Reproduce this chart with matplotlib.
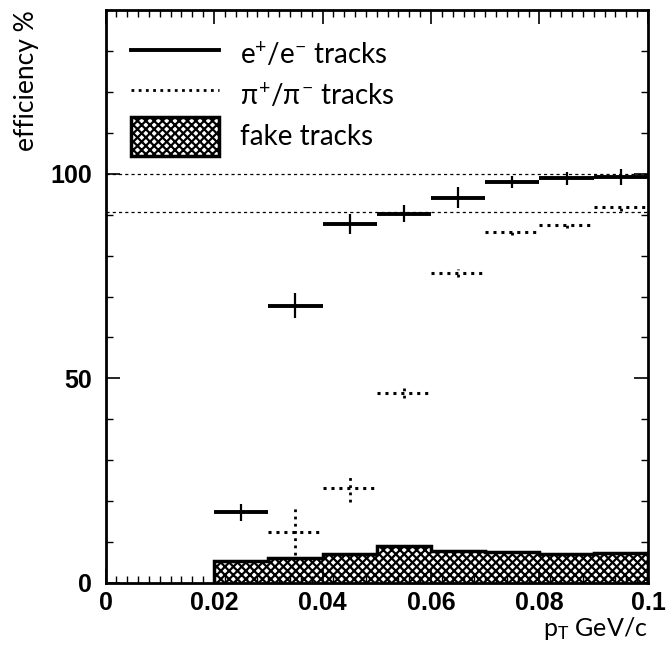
import numpy as np
import matplotlib
matplotlib.use('Agg')
import matplotlib.pyplot as plt
from matplotlib.patches import Patch
from matplotlib.lines import Line2D
from matplotlib.ticker import MultipleLocator

# bins in pT (GeV/c)
bin_lo = np.array([0.02, 0.03, 0.04, 0.05, 0.06, 0.07, 0.08, 0.09])
bin_w = 0.01
pt_mid = bin_lo + bin_w / 2

# e+/e- efficiency
eff_e = [17.2, 67.8, 87.8, 90.3, 94.2, 98.0, 98.9, 99.2]
err_e = [2.0, 3.0, 2.5, 2.0, 2.5, 1.5, 1.5, 2.0]

# pi+/pi- efficiency
eff_pi = [None, 12.5, 23.2, 46.5, 75.8, 85.8, 87.6, 91.8]
err_pi_lo = [0, 5.6, 3.5, 1.2, 1.0, 0.8, 0.8, 0.8]
err_pi_hi = [0, 6.4, 3.0, 1.2, 1.0, 0.8, 0.8, 0.8]

# fake track rate
fake = [5.4, 6.1, 7.1, 9.1, 7.7, 7.5, 7.1, 7.4]

ref_lines = [100, 90.8]

txtfont = 'Lato'

plt.rcParams['hatch.linewidth'] = 1.6
plt.rcParams['mathtext.fontset'] = 'custom'
plt.rcParams['mathtext.rm'] = txtfont
plt.rcParams['mathtext.it'] = txtfont
fig = plt.figure(figsize=(6.68, 6.49), dpi=100)
ax = fig.add_axes([0.158, 0.102, 0.812, 0.882])

# fake tracks histogram
edges = np.append(bin_lo, bin_lo[-1] + bin_w)
ax.stairs(fake, edges, fill=True, facecolor='white', edgecolor='black',
          hatch='xxxx', linewidth=0)
ax.stairs(fake, edges, fill=False, edgecolor='black', linewidth=2.5,
          baseline=0)

# reference lines
for yv in ref_lines:
    ax.axhline(yv, color='black', linestyle=(0, (2.5, 2.5)), linewidth=0.9)

# e+/e-
ax.hlines(eff_e, pt_mid - bin_w / 2, pt_mid + bin_w / 2, color='black',
          linewidth=2.8)
ax.vlines(pt_mid, np.array(eff_e) - np.array(err_e),
          np.array(eff_e) + np.array(err_e), color='black', linewidth=1.6)

# pi+/pi-
m = [v is not None for v in eff_pi]
x_pi = pt_mid[m]
y_pi = np.array([v for v in eff_pi if v is not None])
lo = np.array(err_pi_lo)[m]
hi = np.array(err_pi_hi)[m]
ax.hlines(y_pi, x_pi - bin_w / 2, x_pi + bin_w / 2, color='black',
          linewidth=2.2, linestyle=(0, (1.0, 1.6)))
ax.vlines(x_pi, y_pi - lo, y_pi + hi, color='black', linewidth=2.0,
          linestyle=(0, (1.0, 1.6)))

ax.set_xlim(0, 0.1)
ax.set_ylim(0, 140)
ax.xaxis.set_minor_locator(MultipleLocator(0.002))
ax.yaxis.set_minor_locator(MultipleLocator(10))
ax.set_xticks([0, 0.02, 0.04, 0.06, 0.08, 0.1])
ax.set_xticklabels(['0', '0.02', '0.04', '0.06', '0.08', '0.1'])
ax.set_yticks([0, 50, 100])
ax.set_yticklabels(['0', '50', '100'])
ax.tick_params(which='both', direction='in', top=True, right=True)
ax.tick_params(which='major', length=10, width=1.2, labelsize=18)
ax.tick_params(axis='y', which='major', pad=10)
ax.tick_params(axis='x', which='major', pad=6)
ax.tick_params(which='minor', length=5, width=1)
for lab in ax.get_xticklabels() + ax.get_yticklabels():
    lab.set_fontweight('bold')
    lab.set_family('Liberation Sans')
for sp in ax.spines.values():
    sp.set_linewidth(2)

ax.set_ylabel('efficiency %', fontsize=19, family=txtfont,
              loc='top', labelpad=8)
ax.set_xlabel('p$_{\\rm T}$ GeV/c', fontsize=18, family=txtfont,
              loc='right', labelpad=0)

handles = [Line2D([], [], color='black', linewidth=2.8),
           Line2D([], [], color='black', linewidth=2.0, linestyle=(0, (1.0, 1.6))),
           Patch(facecolor='white', edgecolor='black', hatch='xxxx', linewidth=2.5)]
labels = ['e$^{+}$/e$^{-}$ tracks', '$\\pi^{+}$/$\\pi^{-}$ tracks', 'fake tracks']
leg = ax.legend(handles, labels, loc='upper left', frameon=False,
                prop={'family': txtfont, 'size': 20},
                handlelength=3.2, handleheight=1.8, handletextpad=0.75,
                labelspacing=0.05, borderaxespad=0.5)

fig.savefig('out.png', dpi=100)
